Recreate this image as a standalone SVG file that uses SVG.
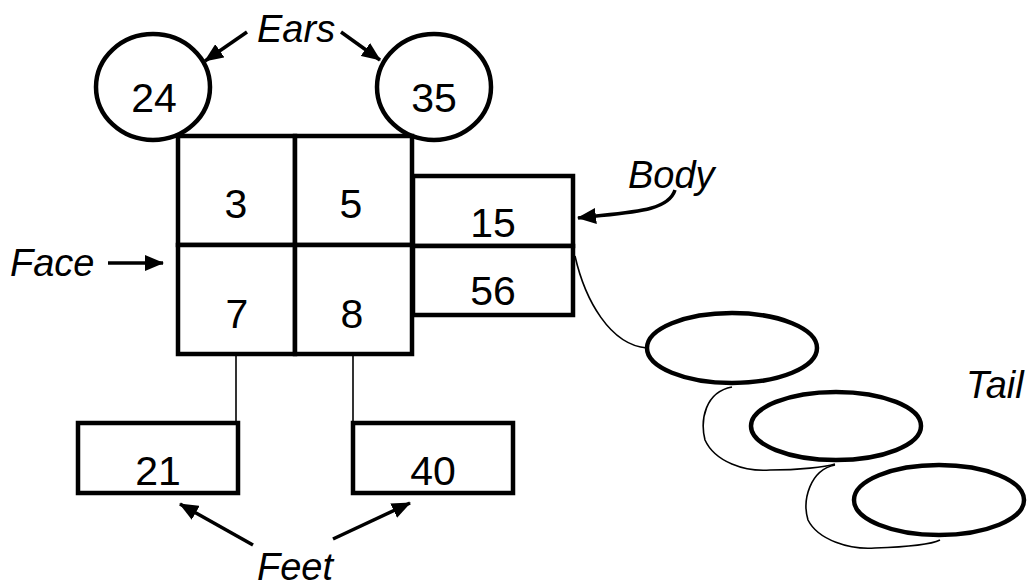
<svg xmlns="http://www.w3.org/2000/svg" width="1034" height="588" viewBox="0 0 1034 588">
<style>
.box{fill:#fff;stroke:#000;stroke-width:4.5;stroke-linejoin:miter}
.ell{fill:#fff;stroke:#000;stroke-width:4.5}
.num{font-family:"Liberation Sans",Arial,sans-serif;font-size:41px;fill:#000;text-anchor:middle}
.lbl{font-family:"Liberation Sans",Arial,sans-serif;font-size:38px;font-style:italic;fill:#000}
.arr{fill:none;stroke:#000;stroke-width:3.5;marker-end:url(#ah)}
.thin{fill:none;stroke:#000;stroke-width:1.6}
</style>
<defs>
<marker id="ah" markerUnits="userSpaceOnUse" markerWidth="20" markerHeight="16" refX="18" refY="8" orient="auto">
<path d="M0,0 L19,8 L0,16 Z" fill="#000"/>
</marker>
</defs>
<g id="connectors">
<line class="thin" x1="236" y1="354" x2="236" y2="423"/>
<line class="thin" x1="353" y1="354" x2="353" y2="423"/>
<path class="thin" d="M575 256 C585 300 610 345 647 348"/>
<path class="thin" d="M732 387 C705 392 700 420 705 440 C715 462 745 472 770 470 C800 470 825 467 835 464"/>
<path class="thin" d="M835 465 C810 470 802 500 808 520 C818 540 850 550 875 548 C905 547 930 545 940 540"/>
<line class="arr" x1="247" y1="32" x2="205" y2="61"/>
<line class="arr" x1="341" y1="32" x2="380" y2="60"/>
<line class="arr" x1="108" y1="263" x2="163" y2="263"/>
<path class="arr" d="M675 190 C668 212 630 212 578 218"/>
<line class="arr" x1="253" y1="545" x2="180" y2="504"/>
<line class="arr" x1="333" y1="539" x2="410" y2="503"/>
</g>
<g id="ear-left"><ellipse class="ell" cx="153" cy="87" rx="57" ry="53"/><text class="num" x="154" y="112">24</text></g>
<g id="ear-right"><ellipse class="ell" cx="434" cy="87" rx="57" ry="53"/><text class="num" x="434" y="112">35</text></g>
<g id="face">
<rect class="box" x="178" y="136" width="117" height="109"/>
<rect class="box" x="295" y="136" width="117" height="109"/>
<rect class="box" x="178" y="245" width="117" height="109"/>
<rect class="box" x="295" y="245" width="117" height="109"/>
<text class="num" x="236" y="218">3</text>
<text class="num" x="351" y="218">5</text>
<text class="num" x="237" y="328">7</text>
<text class="num" x="352" y="328">8</text>
</g>
<g id="body">
<rect class="box" x="413" y="176" width="160" height="70"/>
<rect class="box" x="413" y="246" width="160" height="69"/>
<text class="num" x="493" y="237">15</text>
<text class="num" x="493" y="305">56</text>
</g>
<g id="foot-left"><rect class="box" x="78" y="423" width="160" height="70"/><text class="num" x="158" y="485">21</text></g>
<g id="foot-right"><rect class="box" x="353" y="423" width="160" height="70"/><text class="num" x="433" y="485">40</text></g>
<g id="tail">
<ellipse class="ell" cx="732" cy="348" rx="85" ry="35"/>
<ellipse class="ell" cx="836" cy="426" rx="85" ry="34"/>
<ellipse class="ell" cx="939" cy="500" rx="85" ry="35"/>
</g>
<g id="labels">
<text class="lbl" x="257" y="42">Ears</text>
<text class="lbl" x="10" y="276">Face</text>
<text class="lbl" x="628" y="188">Body</text>
<text class="lbl" x="966" y="398">Tail</text>
<text class="lbl" x="257" y="580">Feet</text>
</g>
</svg>
